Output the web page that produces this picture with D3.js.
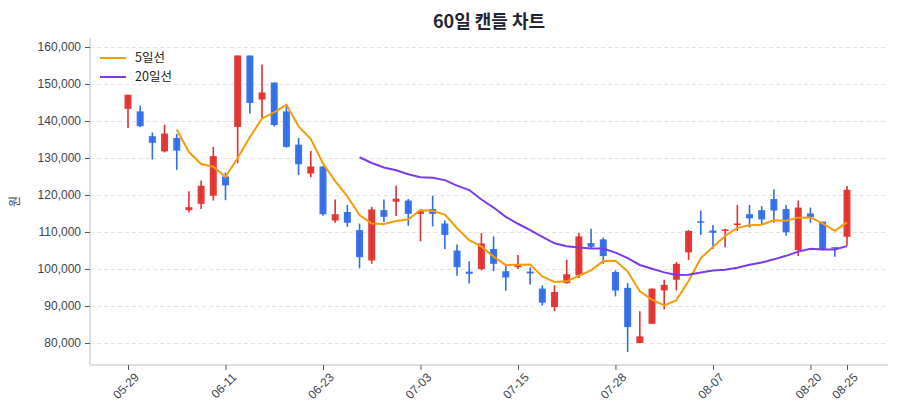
<!DOCTYPE html>
<html>
<head>
<meta charset="utf-8">
<script src="https://cdn.jsdelivr.net/npm/d3@7"></script>
<style>
  body { margin: 0; background: #fff; }
  svg { font-family: "Noto Sans CJK KR", "Noto Sans", sans-serif; }
  .grid line { stroke: #e3e3e3; stroke-dasharray: 4,3; }
  .axis text { fill: #3d4450; font-size: 12px; }
  .axis line { stroke: #555; }
  .axis path { stroke: #dcdfe4; stroke-width: 2; }
</style>
</head>
<body>
<div id="chart"></div>
<script>
// trading days (MM-DD)
var dates = ["05-29","05-30","06-02","06-03","06-04","06-05","06-09","06-10","06-11","06-12",
  "06-13","06-16","06-17","06-18","06-19","06-20","06-23","06-24","06-25","06-26",
  "06-27","06-30","07-01","07-02","07-03","07-04","07-07","07-08","07-09","07-10",
  "07-11","07-14","07-15","07-16","07-18","07-21","07-22","07-23","07-24","07-25",
  "07-28","07-29","07-30","07-31","08-01","08-04","08-05","08-06","08-07","08-08",
  "08-11","08-12","08-13","08-14","08-18","08-19","08-20","08-21","08-22","08-25"];
var xTickLabels = ["05-29","06-11","06-23","07-03","07-15","07-28","08-07","08-20","08-25"];
var yTicks = [80000, 90000, 100000, 110000, 120000, 130000, 140000, 150000, 160000];

var opens = [143300,142600,135900,131800,135400,115900,117600,119800,125000,138400,
  157700,145800,150400,142600,133600,125800,127700,113100,115400,110500,
  102300,115900,118200,118500,114900,116200,112300,105000,99300,100000,
  105400,99400,100500,99300,94700,89700,96200,98300,107000,108000,
  99200,94900,80000,85200,94200,97100,104500,112900,110400,110400,
  111900,114800,115900,118900,116200,105100,115000,112800,105900,108700];
var highs = [147100,144100,136900,139000,136500,121000,123900,133000,126100,157700,
  157700,155300,150400,144200,135400,131900,127800,118800,117300,112300,
  116800,118800,122500,118900,115800,119800,113100,106600,102100,109700,
  108800,101200,103800,100500,95600,95600,102500,109800,110900,108500,
  99600,96200,88600,94700,97100,101900,110500,115800,111900,110800,
  117300,117300,117000,121500,117300,118500,116600,112800,105900,122400];
var lows = [138100,138400,129600,131500,126800,115300,116200,118500,118600,128600,
  142000,140600,138500,132800,125400,124800,114400,112500,111400,100200,
  101400,112700,114300,111700,107500,111500,105400,98200,96100,99600,
  99400,94100,100000,95800,90100,88600,96000,97600,105500,101400,
  92600,77600,80000,85200,89100,94200,102400,109200,105400,105900,
  110300,111200,111900,112500,109000,103500,112500,105100,103300,106300];
var closes = [147100,138600,134100,136600,132000,116700,122500,130500,122600,157700,
  144900,147700,138900,133000,128300,127700,114800,114800,112500,103200,
  116100,114100,119000,114900,115600,114900,109200,100500,98700,106900,
  101400,97700,101200,98800,90900,93800,98600,108800,106000,103500,
  94200,84300,81800,94700,95700,101400,110300,112500,109800,110700,
  112300,113700,113400,115800,109900,116600,114000,105400,105600,121400];

// moving averages as shown on the chart
var ma5 = [null,null,null,null,137680,131600,128380,127660,124860,130000,
  135640,140680,142360,144440,138560,135120,128540,123720,119620,114600,
  112280,112140,112980,113460,115940,115700,114720,111020,107780,106040,
  103340,101040,101180,101200,98000,96480,96660,98180,99620,102140,
  102220,99360,93960,91700,90140,91580,96780,102920,105940,108940,
  111120,111800,111980,113180,113020,113880,113940,112340,110300,112600];
var ma20 = [null,null,null,null,null,null,null,null,null,null,
  null,null,null,null,null,null,null,null,null,130210,
  128660,127440,126680,125600,124780,124690,124020,122520,121330,118790,
  116610,114110,112230,110520,108650,106950,106140,105840,105520,105530,
  104440,102950,101090,100080,99080,98410,98460,99060,99620,99810,
  100350,101150,101760,102610,103560,104700,105470,105300,105280,106180];

var W = 900, H = 420;
var margin = { top: 38, right: 12, bottom: 55, left: 90 };
var width = W - margin.left - margin.right,
    height = H - margin.top - margin.bottom;

var upColor = "#e0302f", downColor = "#2f6de8";

var svg = d3.select("#chart").append("svg")
    .attr("width", W).attr("height", H);

svg.append("text")
    .attr("x", margin.left + width / 2)
    .attr("y", 28)
    .attr("text-anchor", "middle")
    .style("font-size", "18px")
    .style("font-weight", "bold")
    .style("fill", "#1f2430")
    .text("60일 캔들 차트");

var g = svg.append("g")
    .attr("transform", "translate(" + margin.left + "," + margin.top + ")");

var x = d3.scalePoint()
    .domain(dates)
    .range([38, 757]);

var y = d3.scaleLinear()
    .domain([74054, 162432])
    .range([height, 0]);

// grid
g.append("g")
    .attr("class", "grid")
    .call(d3.axisLeft(y).tickValues(yTicks).tickSize(-width).tickFormat(""))
    .call(function (s) { s.select(".domain").remove(); });

// y axis
g.append("g")
    .attr("class", "axis")
    .call(d3.axisLeft(y).tickValues(yTicks).tickSize(5).tickPadding(4)
        .tickFormat(d3.format(",")))
    .call(function (s) {
        s.select(".domain").attr("d", "M0," + height + "V0");
    });

// x axis
var xAxis = g.append("g")
    .attr("class", "axis")
    .attr("transform", "translate(0," + height + ")")
    .call(d3.axisBottom(x).tickValues(xTickLabels).tickSize(5).tickPadding(5))
    .call(function (s) {
        s.select(".domain").attr("d", "M0,0H" + width);
    });
xAxis.selectAll(".tick text")
    .attr("text-anchor", "end")
    .attr("dx", "-0.1em")
    .attr("dy", "0.6em")
    .attr("transform", "rotate(-45)");

svg.append("text")
    .attr("transform", "translate(19," + (margin.top + height / 2) + ") rotate(-90)")
    .attr("text-anchor", "middle")
    .style("font-size", "12px")
    .style("fill", "#3d4450")
    .text("원");

// candles
var idx = d3.range(dates.length);
var candles = g.append("g").selectAll("g")
    .data(idx)
    .enter()
    .append("g");

candles.append("line")
    .attr("x1", function (i) { return x(dates[i]); })
    .attr("x2", function (i) { return x(dates[i]); })
    .attr("y1", function (i) { return y(highs[i]); })
    .attr("y2", function (i) { return y(lows[i]); })
    .attr("stroke", function (i) { return closes[i] >= opens[i] ? upColor : downColor; })
    .attr("stroke-width", 1.6);

var bodyW = 7;
candles.append("rect")
    .attr("x", function (i) { return x(dates[i]) - bodyW / 2; })
    .attr("width", bodyW)
    .attr("y", function (i) { return y(Math.max(opens[i], closes[i])); })
    .attr("height", function (i) {
        return Math.max(1.5, Math.abs(y(opens[i]) - y(closes[i])));
    })
    .attr("fill", function (i) { return closes[i] >= opens[i] ? upColor : downColor; })
    .attr("opacity", 0.95);

// moving average lines
var maLine = function (arr) {
    return d3.line()
        .defined(function (i) { return arr[i] != null; })
        .x(function (i) { return x(dates[i]); })
        .y(function (i) { return y(arr[i]); });
};

g.append("path")
    .datum(idx)
    .attr("fill", "none")
    .attr("stroke", "#f59c0b")
    .attr("stroke-width", 2)
    .attr("d", maLine(ma5));

g.append("path")
    .datum(idx)
    .attr("fill", "none")
    .attr("stroke", "#7b3aed")
    .attr("stroke-width", 2)
    .attr("d", maLine(ma20));

// legend
var legendItems = [
    { name: "5일선", color: "#f59c0b" },
    { name: "20일선", color: "#7b3aed" }
];
var legend = g.append("g").attr("transform", "translate(10,20)");
legendItems.forEach(function (item, k) {
    var row = legend.append("g").attr("transform", "translate(0," + (k * 19) + ")");
    row.append("line")
        .attr("x1", 0).attr("x2", 26)
        .attr("stroke", item.color)
        .attr("stroke-width", 2);
    row.append("text")
        .attr("x", 35).attr("y", 4)
        .style("font-size", "12.5px")
        .style("fill", "#222")
        .text(item.name);
});
</script>
</body>
</html>
